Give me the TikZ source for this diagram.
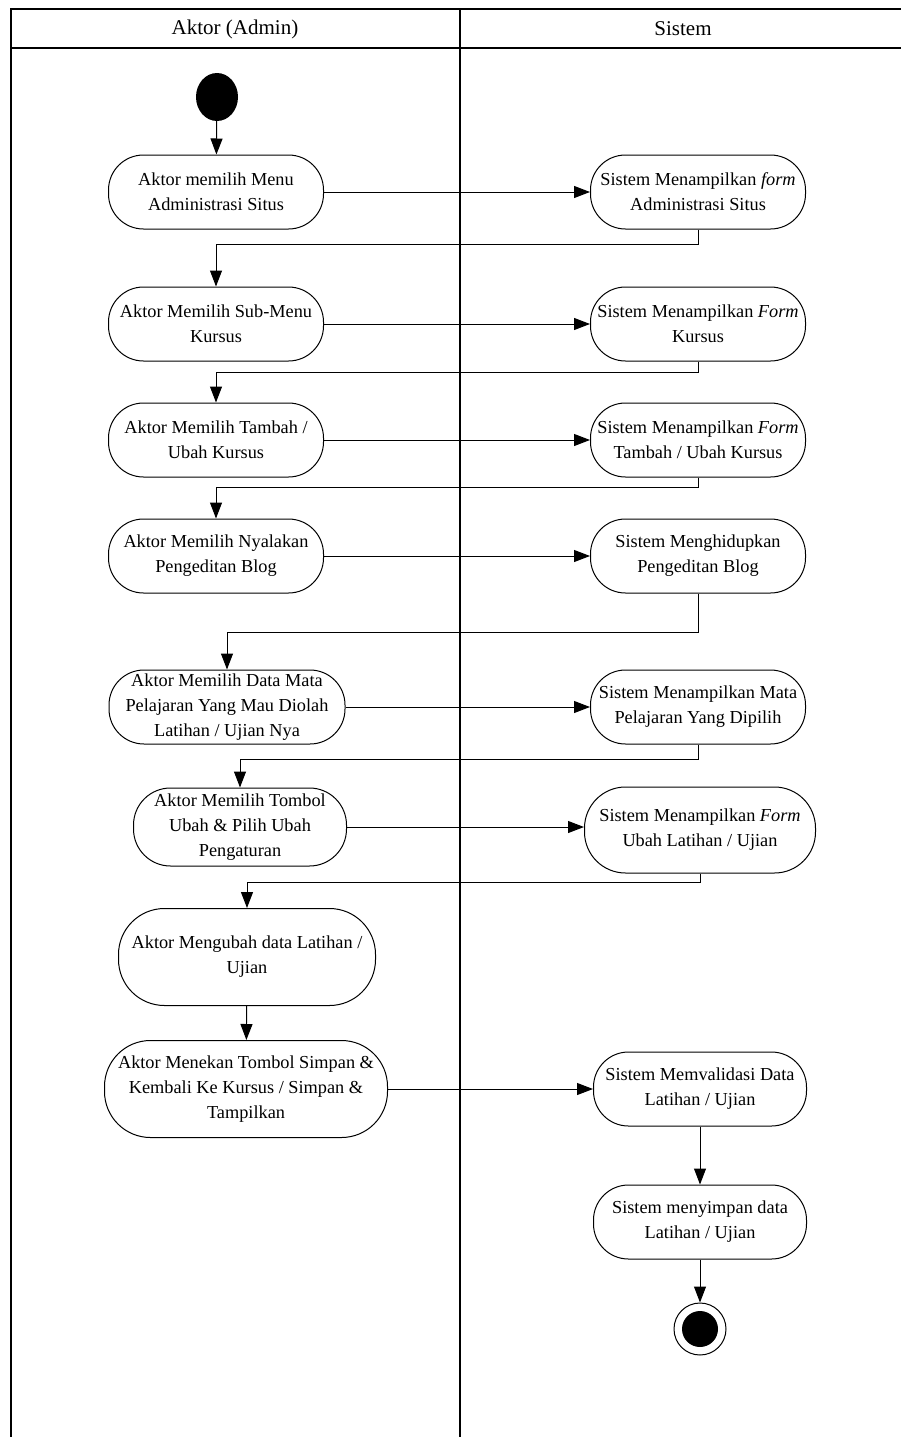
\documentclass[tikz,border=0pt]{standalone}
\usepackage{fontspec}
\setmainfont{Liberation Serif}
\usetikzlibrary{arrows.meta,shapes.geometric}

\tikzset{
  lane/.style={line width=1.3pt},
  actbox/.style={draw, line width=1pt, rounded corners=35pt, align=center,
    minimum width=215pt, minimum height=74pt, inner sep=1pt,
    font=\fontsize{18.3}{25}\selectfont},
  flow/.style={line width=1pt, -{Triangle[length=16pt,width=12pt]}},
}

\begin{document}
\begin{tikzpicture}[x=1pt,y=-1pt]
        % Fija el marco de la imagen.
        \useasboundingbox (0,0) rectangle (901,1437);

        % Dibuja las calles (swimlanes).
        \draw[lane] (11,1437) -- (11,9) -- (901,9);
        \draw[lane] (11,48) -- (901,48);
        \draw[lane] (460,9) -- (460,1437);
        \node[font=\fontsize{21}{24}\selectfont] (lanea) at (235,29) {Aktor (Admin)};
        \node[font=\fontsize{21}{24}\selectfont] (lanes) at (683,29) {Sistem};

        % Nodo inicial.
        \node[ellipse, fill=black, minimum width=42pt, minimum height=48pt, inner sep=0pt] (ini) at (217,97) {};

        % Actividades del actor.
        \node[actbox] (a1) at (216,192) {Aktor memilih Menu\\Administrasi Situs};
        \node[actbox] (a2) at (216,324) {Aktor Memilih Sub-Menu\\Kursus};
        \node[actbox] (a3) at (216,440) {Aktor Memilih Tambah /\\Ubah Kursus};
        \node[actbox] (a4) at (216,556) {Aktor Memilih Nyalakan\\Pengeditan Blog};
        \node[actbox, minimum width=236pt] (a5) at (227,707) {Aktor Memilih Data Mata\\Pelajaran Yang Mau Diolah\\Latihan / Ujian Nya};
        \node[actbox, minimum width=213pt, minimum height=78pt, rounded corners=37pt] (a6) at (240,827) {Aktor Memilih Tombol\\Ubah \& Pilih Ubah\\Pengaturan};
        \node[actbox, minimum width=257pt, minimum height=97pt, rounded corners=46pt] (a7) at (247,957) {Aktor Mengubah data Latihan /\\Ujian};
        \node[actbox, minimum width=283pt, minimum height=97pt, rounded corners=46pt] (a8) at (246,1089) {Aktor Menekan Tombol Simpan \&\\Kembali Ke Kursus / Simpan \&\\Tampilkan};

        % Actividades del sistema.
        \node[actbox] (s1) at (698,192) {Sistem Menampilkan \textit{form}\\Administrasi Situs};
        \node[actbox] (s2) at (698,324) {Sistem Menampilkan \textit{Form}\\Kursus};
        \node[actbox] (s3) at (698,440) {Sistem Menampilkan \textit{Form}\\Tambah / Ubah Kursus};
        \node[actbox] (s4) at (698,556) {Sistem Menghidupkan\\Pengeditan Blog};
        \node[actbox] (s5) at (698,707) {Sistem Menampilkan Mata\\Pelajaran Yang Dipilih};
        \node[actbox, minimum width=231pt, minimum height=86pt, rounded corners=41pt] (s6) at (700,830) {Sistem Menampilkan \textit{Form}\\Ubah Latihan / Ujian};
        \node[actbox, minimum width=213pt] (s7) at (700,1089) {Sistem Memvalidasi Data\\Latihan / Ujian};
        \node[actbox, minimum width=213pt] (s8) at (700,1222) {Sistem menyimpan data\\Latihan / Ujian};

        % Nodo final.
        \node[circle, draw, line width=1pt, minimum size=52pt, inner sep=0pt,
          path picture={\fill (path picture bounding box.center) circle (18pt);}] (fin) at (700,1329) {};

        % Flujos horizontales actor -> sistema.
        \draw[flow] (ini) -- (a1);
        \draw[flow] (a1) -- (s1);
        \draw[flow] (a2) -- (s2);
        \draw[flow] (a3) -- (s3);
        \draw[flow] (a4) -- (s4);
        \draw[flow] (a5) -- (s5);
        \draw[flow] (a6.east) -- (a6.east -| s6.west);
        \draw[flow] (a8) -- (s7);

        % Flujos de regreso sistema -> actor.
        \draw[flow] (s1.south) -- ++(0,15) -| (a2.north);
        \draw[flow] (s2.south) -- ++(0,11) -| (a3.north);
        \draw[flow] (s3.south) -- ++(0,10) -| (a4.north);
        \draw[flow] (s4.south) -- ++(0,39) -| (a5.north);
        \draw[flow] (s5.south) -- ++(0,15) -| (a6.north);
        \draw[flow] (s6.south) -- ++(0,9) -| (a7.north);

        % Flujos verticales restantes.
        \draw[flow] (a7) -- (a8);
        \draw[flow] (s7) -- (s8);
        \draw[flow] (s8) -- (fin);
    \end{tikzpicture}
\end{document}
